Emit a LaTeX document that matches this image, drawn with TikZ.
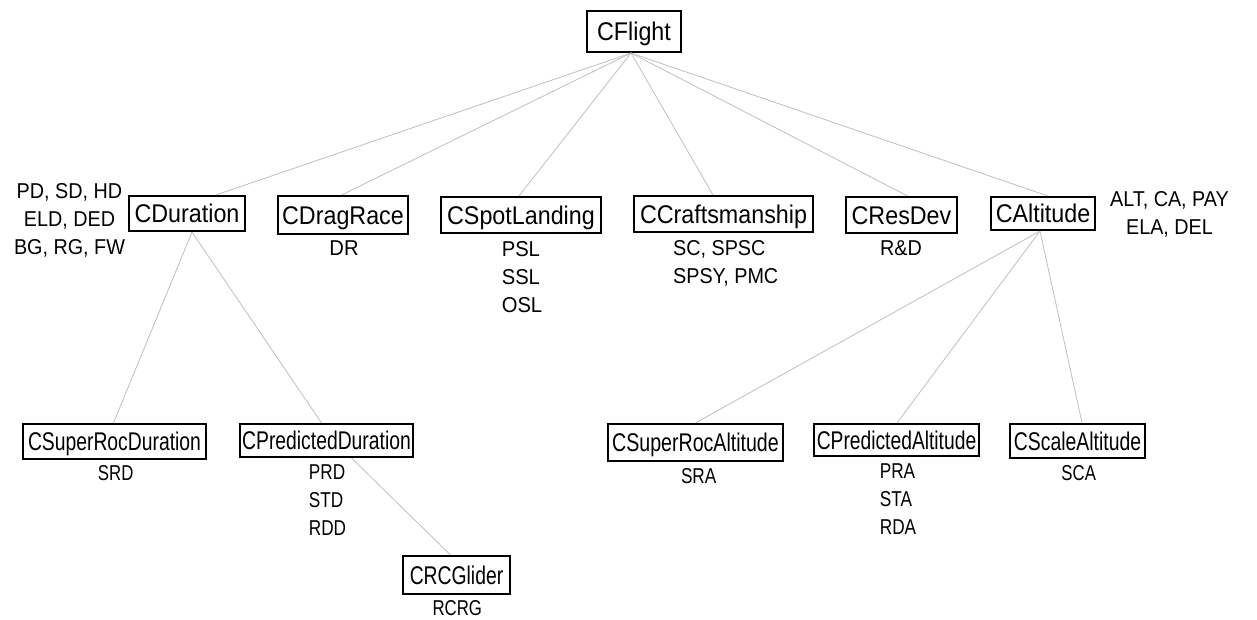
\documentclass[tikz,border=0pt]{standalone}
\usepackage{fontspec}
\setmainfont{Liberation Sans}
\usepackage{graphicx}
\usetikzlibrary{calc}
\newcommand{\boxtxt}[2]{\scalebox{#1}[1]{#2}}
\newcommand{\lbl}[3]{\scalebox{#1}[1]{\fontsize{21.5}{28}\selectfont\begin{tabular}{@{}#2@{}}#3\end{tabular}}}
\tikzset{
  cls/.style 2 args={draw=black, line width=1.6pt, inner sep=0pt, fill=white,
    minimum width=#1pt, minimum height=#2pt,
    font=\fontsize{25.6}{30}\selectfont, text height=18.3pt, text depth=0pt},
  lblnode/.style={inner sep=0pt},
  conn/.style={draw=black!25, line width=0.8pt}
}
\begin{document}
\begin{tikzpicture}[x=1pt,y=-1pt]
\useasboundingbox (0,0) rectangle (1257,620);
% top
\node[cls={94.5}{41.5}] (flight) at (634,31.5) {\boxtxt{0.91}{CFlight}};
% middle row
\node[cls={116.5}{35.5}] (dur) at (187,213.5) {\boxtxt{0.91}{CDuration}};
\node[cls={130.5}{38.5}] (drag) at (343,215) {\boxtxt{0.91}{CDragRace}};
\node[cls={160.5}{36.5}] (spot) at (521,215) {\boxtxt{0.91}{CSpotLanding}};
\node[cls={179.5}{36.5}] (craft) at (723.5,214) {\boxtxt{0.91}{CCraftsmanship}};
\node[cls={111.5}{36.5}] (resdev) at (901.5,215) {\boxtxt{0.91}{CResDev}};
\node[cls={104.5}{33.5}] (alt) at (1043,213.5) {\boxtxt{0.91}{CAltitude}};
% bottom row
\node[cls={183.5}{35.5}] (srd) at (114.5,441.5) {\boxtxt{0.755}{CSuperRocDuration}};
\node[cls={173.5}{33.5}] (prd) at (326.5,440.5) {\boxtxt{0.755}{CPredictedDuration}};
\node[cls={175.5}{37.5}] (sra) at (695.5,442.5) {\boxtxt{0.765}{CSuperRocAltitude}};
\node[cls={165.5}{32.5}] (pra) at (896.5,440) {\boxtxt{0.752}{CPredictedAltitude}};
\node[cls={135.5}{34.5}] (sca) at (1077.5,441) {\boxtxt{0.758}{CScaleAltitude}};
\node[cls={107.5}{38.5}] (rcg) at (456.5,575) {\boxtxt{0.755}{CRCGlider}};
% connectors
\draw[conn] ([xshift=-3pt]flight.south) -- ([xshift=29pt]dur.north);
\draw[conn] ([xshift=-3pt]flight.south) -- ([xshift=-1.3pt]drag.north);
\draw[conn] ([xshift=-3pt]flight.south) -- ([xshift=-2pt]spot.north);
\draw[conn] ([xshift=-3pt]flight.south) -- ([xshift=-10.5pt]craft.north);
\draw[conn] ([xshift=-3pt]flight.south) -- ([xshift=6pt]resdev.north);
\draw[conn] ([xshift=-3pt]flight.south) -- ([xshift=4.7pt]alt.north);
\draw[conn] ([xshift=5pt]dur.south) -- ([xshift=-1pt]srd.north);
\draw[conn] ([xshift=5pt]dur.south) -- ([xshift=-5pt]prd.north);
\draw[conn] ([xshift=25pt]prd.south) -- ([xshift=-6pt]rcg.north);
\draw[conn] ([xshift=-3pt]alt.south) -- (sra.north);
\draw[conn] ([xshift=-3pt]alt.south) -- ([xshift=0.5pt]pra.north);
\draw[conn] ([xshift=-3pt]alt.south) -- ([xshift=4.5pt]sca.north);
% labels
\node[lblnode] (durL) at (69.5,220.5) {\lbl{0.92}{c}{PD, SD, HD\\ELD, DED\\BG, RG, FW}};
\node[lblnode] (dragL) at (344,250) {\lbl{0.94}{c}{DR}};
\node[lblnode] (spotL) at (522,278.5) {\lbl{0.94}{l}{PSL\\SSL\\OSL}};
\node[lblnode] (craftL) at (725.7,264) {\lbl{0.92}{l}{SC, SPSC\\SPSY, PMC}};
\node[lblnode] (resdevL) at (901,250) {\lbl{0.92}{c}{R\&D}};
\node[lblnode] (altL) at (1169.5,214.5) {\lbl{0.92}{c}{ALT, CA, PAY\\ELA, DEL}};
\node[lblnode] (srdL) at (115.7,475.3) {\lbl{0.78}{c}{SRD}};
\node[lblnode] (prdL) at (327.5,502) {\lbl{0.8}{l}{PRD\\STD\\RDD}};
\node[lblnode] (sraL) at (698.7,477.7) {\lbl{0.8}{c}{SRA}};
\node[lblnode] (praL) at (898,501) {\lbl{0.8}{l}{PRA\\STA\\RDA}};
\node[lblnode] (scaL) at (1078.7,475.3) {\lbl{0.78}{c}{SCA}};
\node[lblnode] (rcgL) at (457.3,610.3) {\lbl{0.78}{c}{RCRG}};
\end{tikzpicture}
\end{document}
